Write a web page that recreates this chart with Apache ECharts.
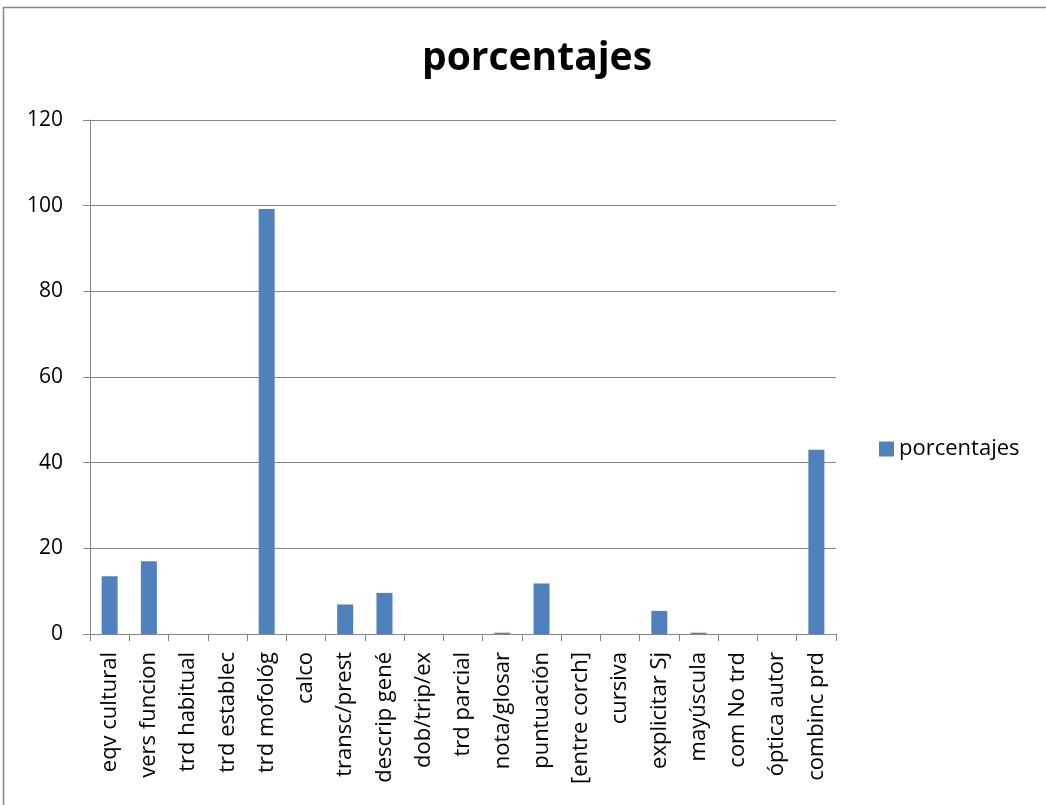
<!DOCTYPE html>
<html><head><meta charset="utf-8">
<script src="https://cdn.jsdelivr.net/npm/echarts@6/dist/echarts.min.js"></script>
<style>html,body{margin:0;padding:0;background:#fff}#c{width:1046px;height:805px}</style>
</head><body><div id="c"></div>
<script>
const categories = ["eqv cultural","vers funcion","trd habitual","trd establec","trd mofológ","calco","transc/prest","descrip gené","dob/trip/ex","trd parcial","nota/glosar","puntuación","[entre corch]","cursiva","explicitar Sj","mayúscula","com No trd","óptica autor","combinc prd"];
const values = [13.5, 17.0, 0, 0, 99.2, 0, 6.9, 9.6, 0, 0, 0.3, 11.8, 0, 0, 5.4, 0.3, 0, 0, 43.0];
const yTicks = {min: 0, max: 120, interval: 20};
const seriesName = "porcentajes";
const titleText = "porcentajes";

const font = "'Open Sans', 'Noto Sans', sans-serif";
const chart = echarts.init(document.getElementById('c'));
chart.setOption({
  animation: false,
  graphic: [{type:'rect', shape:{x:3.5, y:7.5, width:1050, height:810}, style:{fill:'none', stroke:'#868686', lineWidth:1.5}, silent:true}],
  title: {text: titleText, left: 532, top: 34, textAlign: 'center', textStyle:{fontFamily: font, fontSize: 39, fontWeight: 'bold', color:'#000'}},
  legend: {data:[seriesName], left: 879, top: 438, padding: 0, itemWidth: 15, itemHeight: 15, itemGap: 5, icon:'rect', textStyle:{fontFamily: font, fontSize: 22, color:'#000'}},
  grid: {left: 90, right: 210, top: 120, bottom: 171},
  xAxis: {type:'category', data: categories,
    axisLine:{lineStyle:{color:'#868686', width:1}},
    axisTick:{show:true, alignWithLabel:false, length:7, lineStyle:{color:'#868686'}},
    axisLabel:{rotate: 90, interval: 0, margin: 18, fontFamily: font, fontSize: 22, color:'#000'}},
  yAxis: {type:'value', min: yTicks.min, max: yTicks.max, interval: yTicks.interval,
    axisLine:{show:true, lineStyle:{color:'#868686', width:1}},
    axisTick:{show:true, length:7, lineStyle:{color:'#868686'}},
    splitLine:{lineStyle:{color:'#868686', width:1}},
    axisLabel:{margin: 27, fontFamily: font, fontSize: 21, color:'#000'}},
  series: [{name: seriesName, type:'bar', data: values, barWidth: 16, itemStyle:{color:'#4f81bd'}}]
});
</script></body></html>
